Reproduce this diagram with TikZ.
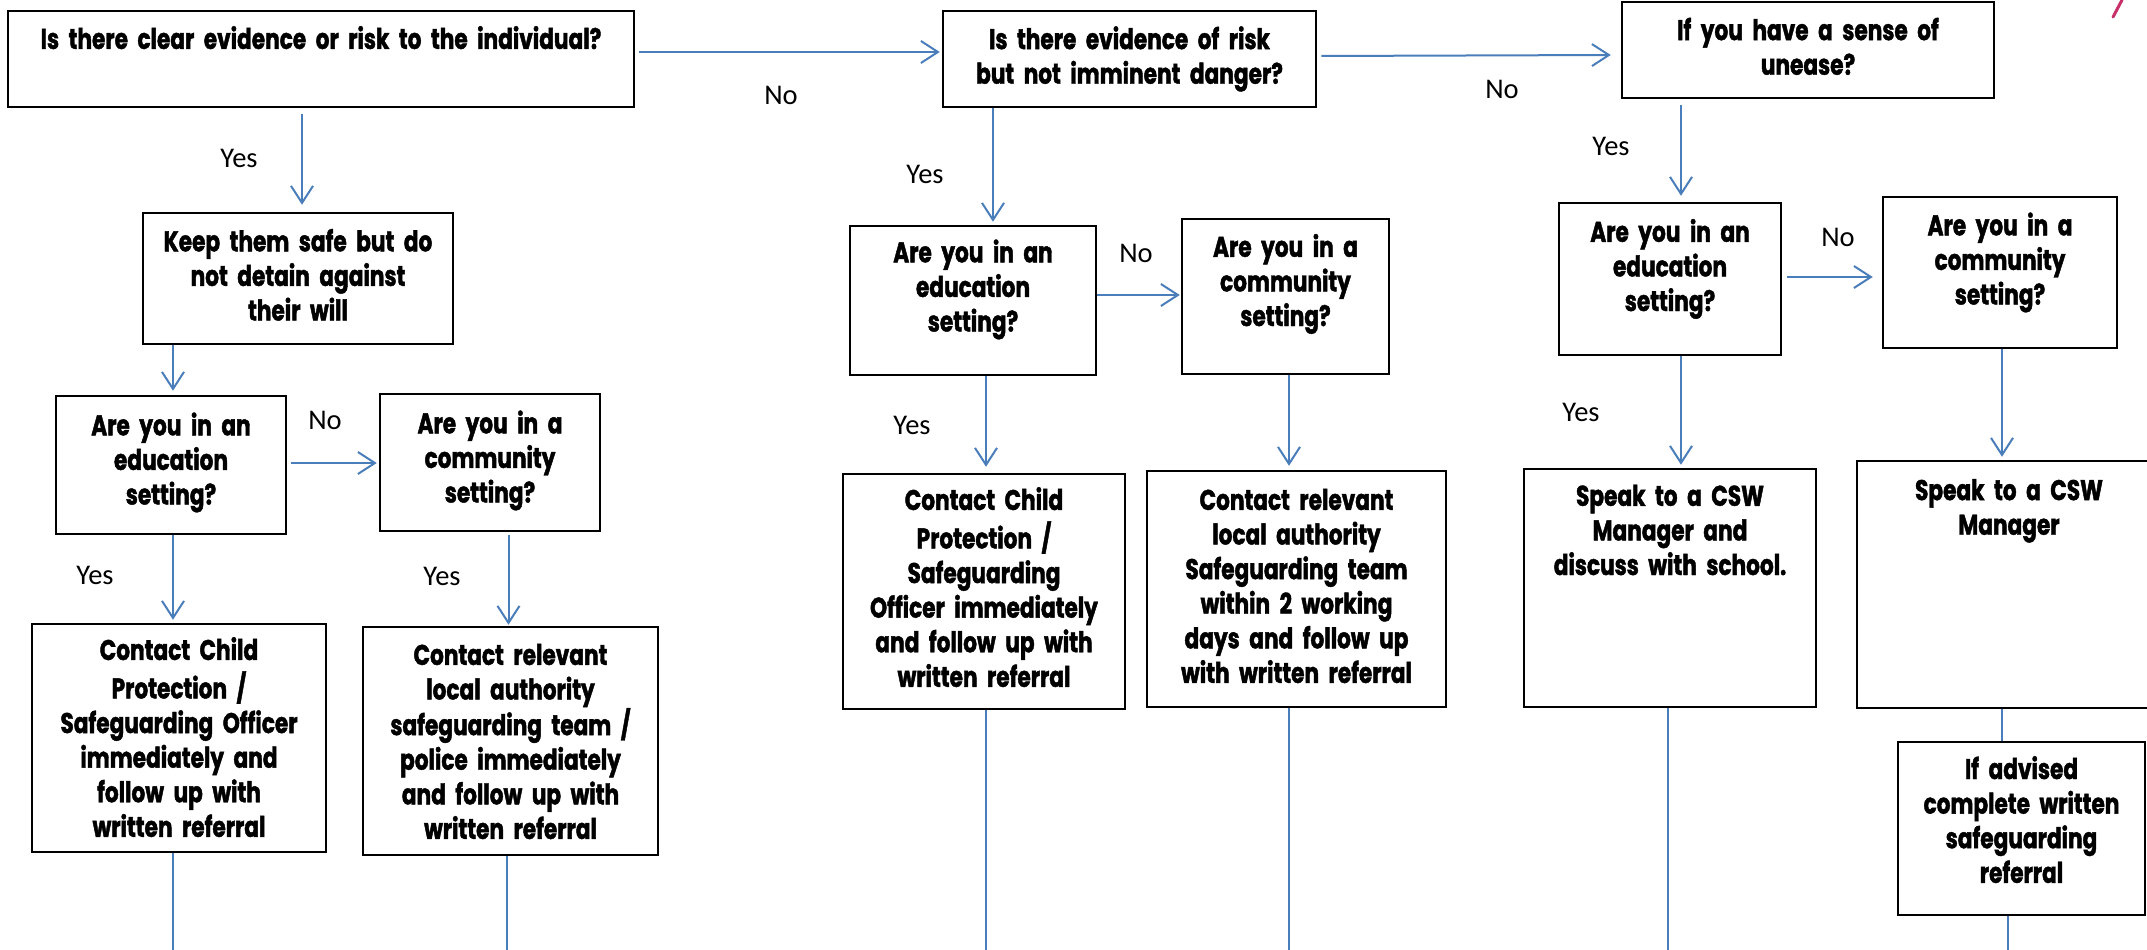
\documentclass[tikz,border=0pt]{standalone}
\usepackage{fontspec}
\usetikzlibrary{arrows.meta,calc}
\newfontfamily\boxfont[FakeStretch=0.76,BoldFeatures={FakeBold=1.5}]{Poppins}
\newfontfamily\labfont{Carlito}
\definecolor{conn}{HTML}{4A7EBB}
\definecolor{mag}{HTML}{C8306A}
\begin{document}
\begin{tikzpicture}[x=1pt,y=-1pt,
  box/.style={draw=black, line width=2.5pt, rectangle, inner sep=0pt},
  txt/.style={font=\boxfont\bfseries\fontsize{28.5}{34.6}\selectfont, align=center, text width=#1, inner sep=0pt, execute at begin node=\strut, execute at end node=\strut},
  lab/.style={font=\labfont\fontsize{28.5}{32}\selectfont, inner sep=0pt},
  arr/.style={draw=conn, line width=2pt, -{Straight Barb[length=17pt,width=22pt]}},
  ln/.style={draw=conn, line width=2pt},
]
\fill[white] (0,0) rectangle (2147,950);
\useasboundingbox (0,0) rectangle (2147,950);
\clip (0,0) rectangle (2147,950);
\coordinate (bot) at (0,952);

% boxes
\node[box, minimum width=626pt, minimum height=96pt] (A) at (321,59) {};
\node[box, minimum width=373pt, minimum height=96pt] (B) at (1129.5,59) {};
\node[box, minimum width=372pt, minimum height=96pt] (C) at (1808,50) {};
\node[box, minimum width=310pt, minimum height=131pt] (Keep) at (298,278.5) {};
\node[box, minimum width=230pt, minimum height=138pt] (Edu1) at (171,465) {};
\node[box, minimum width=220pt, minimum height=137pt] (Com1) at (490,462.5) {};
\node[box, minimum width=294pt, minimum height=228pt] (Con1) at (179,738) {};
\node[box, minimum width=295pt, minimum height=228pt] (Con2) at (510.5,741) {};
\node[box, minimum width=246pt, minimum height=149pt] (Edu2) at (973,300.5) {};
\node[box, minimum width=207pt, minimum height=155pt] (Com2) at (1285.5,296.5) {};
\node[box, minimum width=282pt, minimum height=235pt] (Con3) at (984,591.5) {};
\node[box, minimum width=299pt, minimum height=236pt] (Con4) at (1296.5,589) {};
\node[box, minimum width=222pt, minimum height=152pt] (Edu3) at (1670,279) {};
\node[box, minimum width=234pt, minimum height=151pt] (Com3) at (2000,272.5) {};
\node[box, minimum width=292pt, minimum height=238pt] (Sp1) at (1670,588) {};
\node[box, minimum width=304pt, minimum height=247pt] (Sp2) at (2009,584.5) {};
\node[box, minimum width=247pt, minimum height=173pt] (Adv) at (2021.5,828.5) {};

% texts
\node[txt=620pt] (At) at (321,42) {Is there clear evidence or risk to the individual?};
\node[txt=400pt] (Bt) at (1129.5,59.5) {Is there evidence of risk\\but not imminent danger?};
\node[txt=400pt] (Ct) at (1808,50.5) {If you have a sense of\\unease?};
\node[txt=400pt] (Keept) at (298,279) {Keep them safe but do\\not detain against\\their will};
\node[txt=400pt] (Edu1t) at (171,463) {Are you in an\\education\\setting?};
\node[txt=400pt] (Com1t) at (490,461) {Are you in a\\community\\setting?};
\node[txt=400pt] (Con1t) at (179,741.5) {Contact Child\\Protection /\\Safeguarding Officer\\immediately and\\follow up with\\written referral};
\node[txt=400pt] (Con2t) at (510.5,745) {Contact relevant\\local authority\\safeguarding team /\\police immediately\\and follow up with\\written referral};
\node[txt=400pt] (Edu2t) at (973,290) {Are you in an\\education\\setting?};
\node[txt=400pt] (Com2t) at (1285.5,284.5) {Are you in a\\community\\setting?};
\node[txt=400pt] (Con3t) at (984,591.5) {Contact Child\\Protection /\\Safeguarding\\Officer immediately\\and follow up with\\written referral};
\node[txt=400pt] (Con4t) at (1296.5,589.5) {Contact relevant\\local authority\\Safeguarding team\\within 2 working\\days and follow up\\with written referral};
\node[txt=400pt] (Edu3t) at (1670,269.5) {Are you in an\\education\\setting?};
\node[txt=400pt] (Com3t) at (2000,263) {Are you in a\\community\\setting?};
\node[txt=400pt] (Sp1t) at (1670,533.5) {Speak to a CSW\\Manager and\\discuss with school.};
\node[txt=400pt] (Sp2t) at (2009,510.5) {Speak to a CSW\\Manager};
\node[txt=400pt] (Advt) at (2021.5,824) {If advised\\complete written\\safeguarding\\referral};

% connectors
\draw[arr] ($(A.east)+(4,-7)$) -- ($(B.west)+(-2,-7)$);
\draw[arr] ($(B.east)+(4,-3)$) -- ($(C.west)+(-10,5)$);
\draw[arr] ($(Keep.north |- A.south)+(4,6)$) -- ($(Keep.north)+(4,-7)$);
\draw[arr] ($(Edu1.north |- Keep.south)+(2,0)$) -- ($(Edu1.north)+(2,-4)$);
\draw[arr] ($(Edu1.south)+(2,0)$) -- ($(Edu1.south |- Con1.north)+(2,-3)$);
\draw[arr] ($(Edu1.east)+(4,-2)$) -- ($(Edu1.east -| Com1.west)+(-2,-2)$);
\draw[arr] ($(Con2.north |- Com1.south)+(-2,3)$) -- ($(Con2.north)+(-2,-1)$);
\draw[ln] ($(Edu1.south |- Con1.south)+(2,0)$) -- ($(Edu1.south |- bot)+(2,0)$);
\draw[ln] ($(Con2.south)+(-4,0)$) -- ($(Con2.south |- bot)+(-4,0)$);
\draw[arr] ($(Edu2.north |- B.south)+(20,0)$) -- ($(Edu2.north)+(20,-3)$);
\draw[arr] ($(Edu2.east)+(0,-5.5)$) -- ($(Edu2.east -| Com2.west)+(-1,-5.5)$);
\draw[arr] ($(Con3.north |- Edu2.south)+(2,0)$) -- ($(Con3.north)+(2,-6)$);
\draw[ln] ($(Con3.south)+(2,0)$) -- ($(Con3.south |- bot)+(2,0)$);
\draw[arr] ($(Com2.south)+(3.5,0)$) -- ($(Com2.south |- Con4.north)+(3.5,-4)$);
\draw[ln] ($(Com2.south |- Con4.south)+(3.5,0)$) -- ($(Com2.south |- bot)+(3.5,0)$);
\draw[arr] ($(Edu3.north |- C.south)+(11,6)$) -- ($(Edu3.north)+(11,-6)$);
\draw[arr] ($(Edu3.east)+(5,-2)$) -- ($(Edu3.east -| Com3.west)+(-9,-2)$);
\draw[arr] ($(Edu3.south)+(11,0)$) -- ($(Edu3.south |- Sp1.north)+(11,-3)$);
\draw[ln] ($(Sp1.south)+(-2,0)$) -- ($(Sp1.south |- bot)+(-2,0)$);
\draw[arr] ($(Com3.south)+(2,0)$) -- ($(Com3.south |- Sp2.north)+(2,-3)$);
\draw[ln] ($(Com3.south |- Sp2.south)+(2,0)$) -- ($(Com3.south |- Adv.north)+(2,0)$);
\draw[ln] ($(Adv.south)+(-13.5,0)$) -- ($(Adv.south |- bot)+(-13.5,0)$);

% labels
\node[lab] (l1) at (781,95) {No};
\node[lab] (l2) at (1502,89) {No};
\node[lab] (l3) at (239,158) {Yes};
\node[lab] (l4) at (95,575) {Yes};
\node[lab] (l5) at (325,420) {No};
\node[lab] (l6) at (442,576) {Yes};
\node[lab] (l7) at (925,174) {Yes};
\node[lab] (l8) at (1136,253) {No};
\node[lab] (l9) at (912,425) {Yes};
\node[lab] (l10) at (1611,146) {Yes};
\node[lab] (l11) at (1838,237) {No};
\node[lab] (l12) at (1581,412) {Yes};

% small magenta mark at top right
\draw[mag, line width=3pt, line cap=round] (2122,0) -- (2113,17);
\end{tikzpicture}
\end{document}
